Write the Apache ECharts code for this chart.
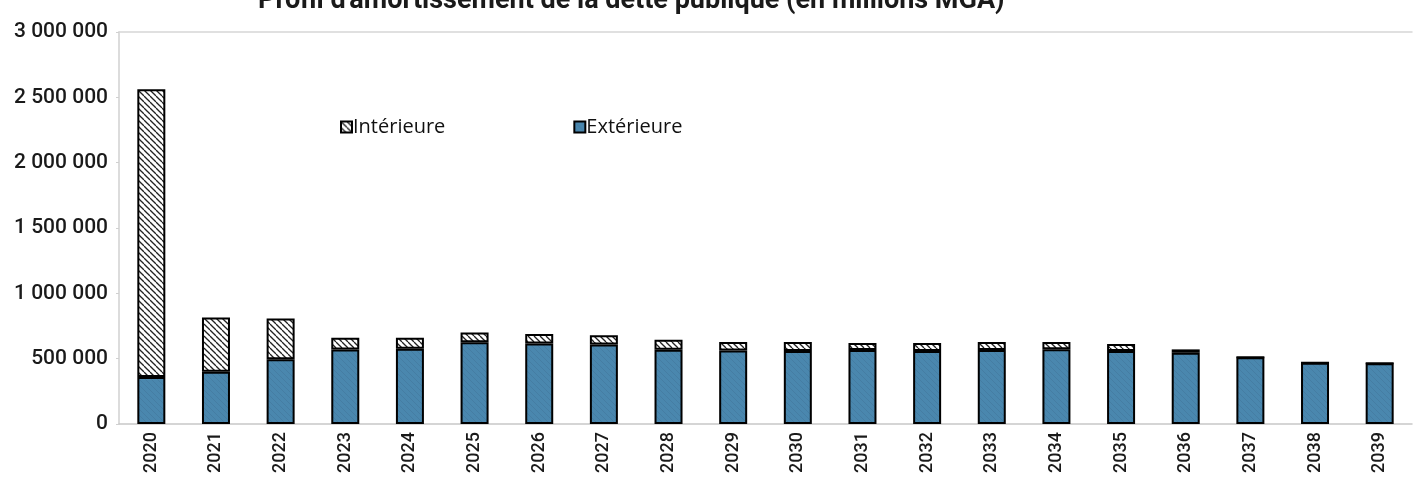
<!DOCTYPE html>
<html>
<head>
<meta charset="utf-8">
<script src="https://cdn.jsdelivr.net/npm/echarts@6/dist/echarts.min.js"></script>
<style>
  html, body { margin: 0; padding: 0; background: #fff; }
  #chart { width: 1416px; height: 482px; }
</style>
</head>
<body>
<div id="chart"></div>
<script>
// années
const annees = ['2020', '2021', '2022', '2023', '2024', '2025', '2026', '2027', '2028', '2029',
  '2030', '2031', '2032', '2033', '2034', '2035', '2036', '2037', '2038', '2039'];
// dette extérieure (millions MGA)
const exterieure = [360000, 400000, 495000, 571000, 575000, 625000, 617000, 609000, 568000, 563000,
  558000, 566000, 558000, 566000, 573000, 558000, 545000, 510000, 469000, 464000];
// dette intérieure (millions MGA)
const interieure = [2201000, 416000, 313000, 89000, 85000, 76000, 71000, 71000, 77000, 64000,
  69000, 53000, 61000, 61000, 54000, 54000, 26000, 0, 0, 0];
const yTicks = [0, 500000, 1000000, 1500000, 2000000, 2500000, 3000000];

// motif hachuré
function hatch(bg, line, width) {
  const s = 6;
  const c = document.createElement('canvas');
  c.width = s; c.height = s;
  const ctx = c.getContext('2d');
  ctx.fillStyle = bg;
  ctx.fillRect(0, 0, s, s);
  ctx.strokeStyle = line;
  ctx.lineWidth = width;
  for (let k = -s; k <= s; k += s) {
    ctx.beginPath();
    ctx.moveTo(k, 0);
    ctx.lineTo(k + s, s);
    ctx.stroke();
  }
  return { image: c, repeat: 'repeat' };
}

function fmt(v) {
  return String(v).replace(/\B(?=(\d{3})+(?!\d))/g, ' ');
}

const chart = echarts.init(document.getElementById('chart'));
const option = {
  animation: false,
  title: {
    text: "Profil d'amortissement de la dette publique (en millions MGA)",
    left: 253,
    top: -17,
    textStyle: { fontFamily: 'Roboto', fontSize: 27, fontWeight: 'bold', color: '#1a1a1a' }
  },
  legend: {
    left: 335,
    top: 112,
    itemWidth: 11,
    itemHeight: 11,
    itemGap: 128,
    icon: 'rect',
    textStyle: { fontFamily: 'Open Sans', fontSize: 20, color: '#111', padding: [0, 0, 0, -4] },
    data: ['Intérieure', 'Extérieure']
  },
  grid: { left: 119, right: 4, top: 32, bottom: 58 },
  xAxis: [{
    type: 'category',
    data: annees,
    axisLine: { lineStyle: { color: '#c8c8c8', width: 1.5 } },
    axisTick: { inside: true, length: 6, lineStyle: { color: '#c8c8c8' } },
    axisLabel: { rotate: 90, margin: 8, fontFamily: 'Roboto', fontWeight: 500, fontSize: 18, color: '#1a1a1a' }
  }, {
    type: 'category',
    position: 'top',
    data: annees,
    axisLine: { show: true, lineStyle: { color: '#d6d6d6', width: 1.5 } },
    axisTick: { show: false },
    axisLabel: { show: false }
  }],
  yAxis: {
    type: 'value',
    min: yTicks[0],
    max: yTicks[yTicks.length - 1],
    interval: 500000,
    axisLine: { show: true, lineStyle: { color: '#d0d0d0', width: 1.5 } },
    axisTick: { show: true, length: 3, lineStyle: { color: '#d0d0d0' } },
    splitLine: { show: false },
    axisLabel: {
      margin: 11,
      fontFamily: 'Roboto',
      fontWeight: 500,
      fontSize: 21,
      color: '#1a1a1a',
      formatter: fmt
    }
  },
  series: [{
    name: 'Extérieure',
    type: 'bar',
    stack: 'dette',
    barWidth: 28,
    data: exterieure,
    itemStyle: {
      color: hatch('#4a87ae', 'rgba(30,60,90,0.12)', 1),
      borderColor: '#000',
      borderWidth: 2
    }
  }, {
    name: 'Intérieure',
    type: 'bar',
    stack: 'dette',
    barWidth: 28,
    data: interieure,
    itemStyle: {
      color: hatch('#ffffff', '#222', 1.3),
      borderColor: '#000',
      borderWidth: 2
    }
  }]
};
chart.setOption(option);
</script>
</body>
</html>
